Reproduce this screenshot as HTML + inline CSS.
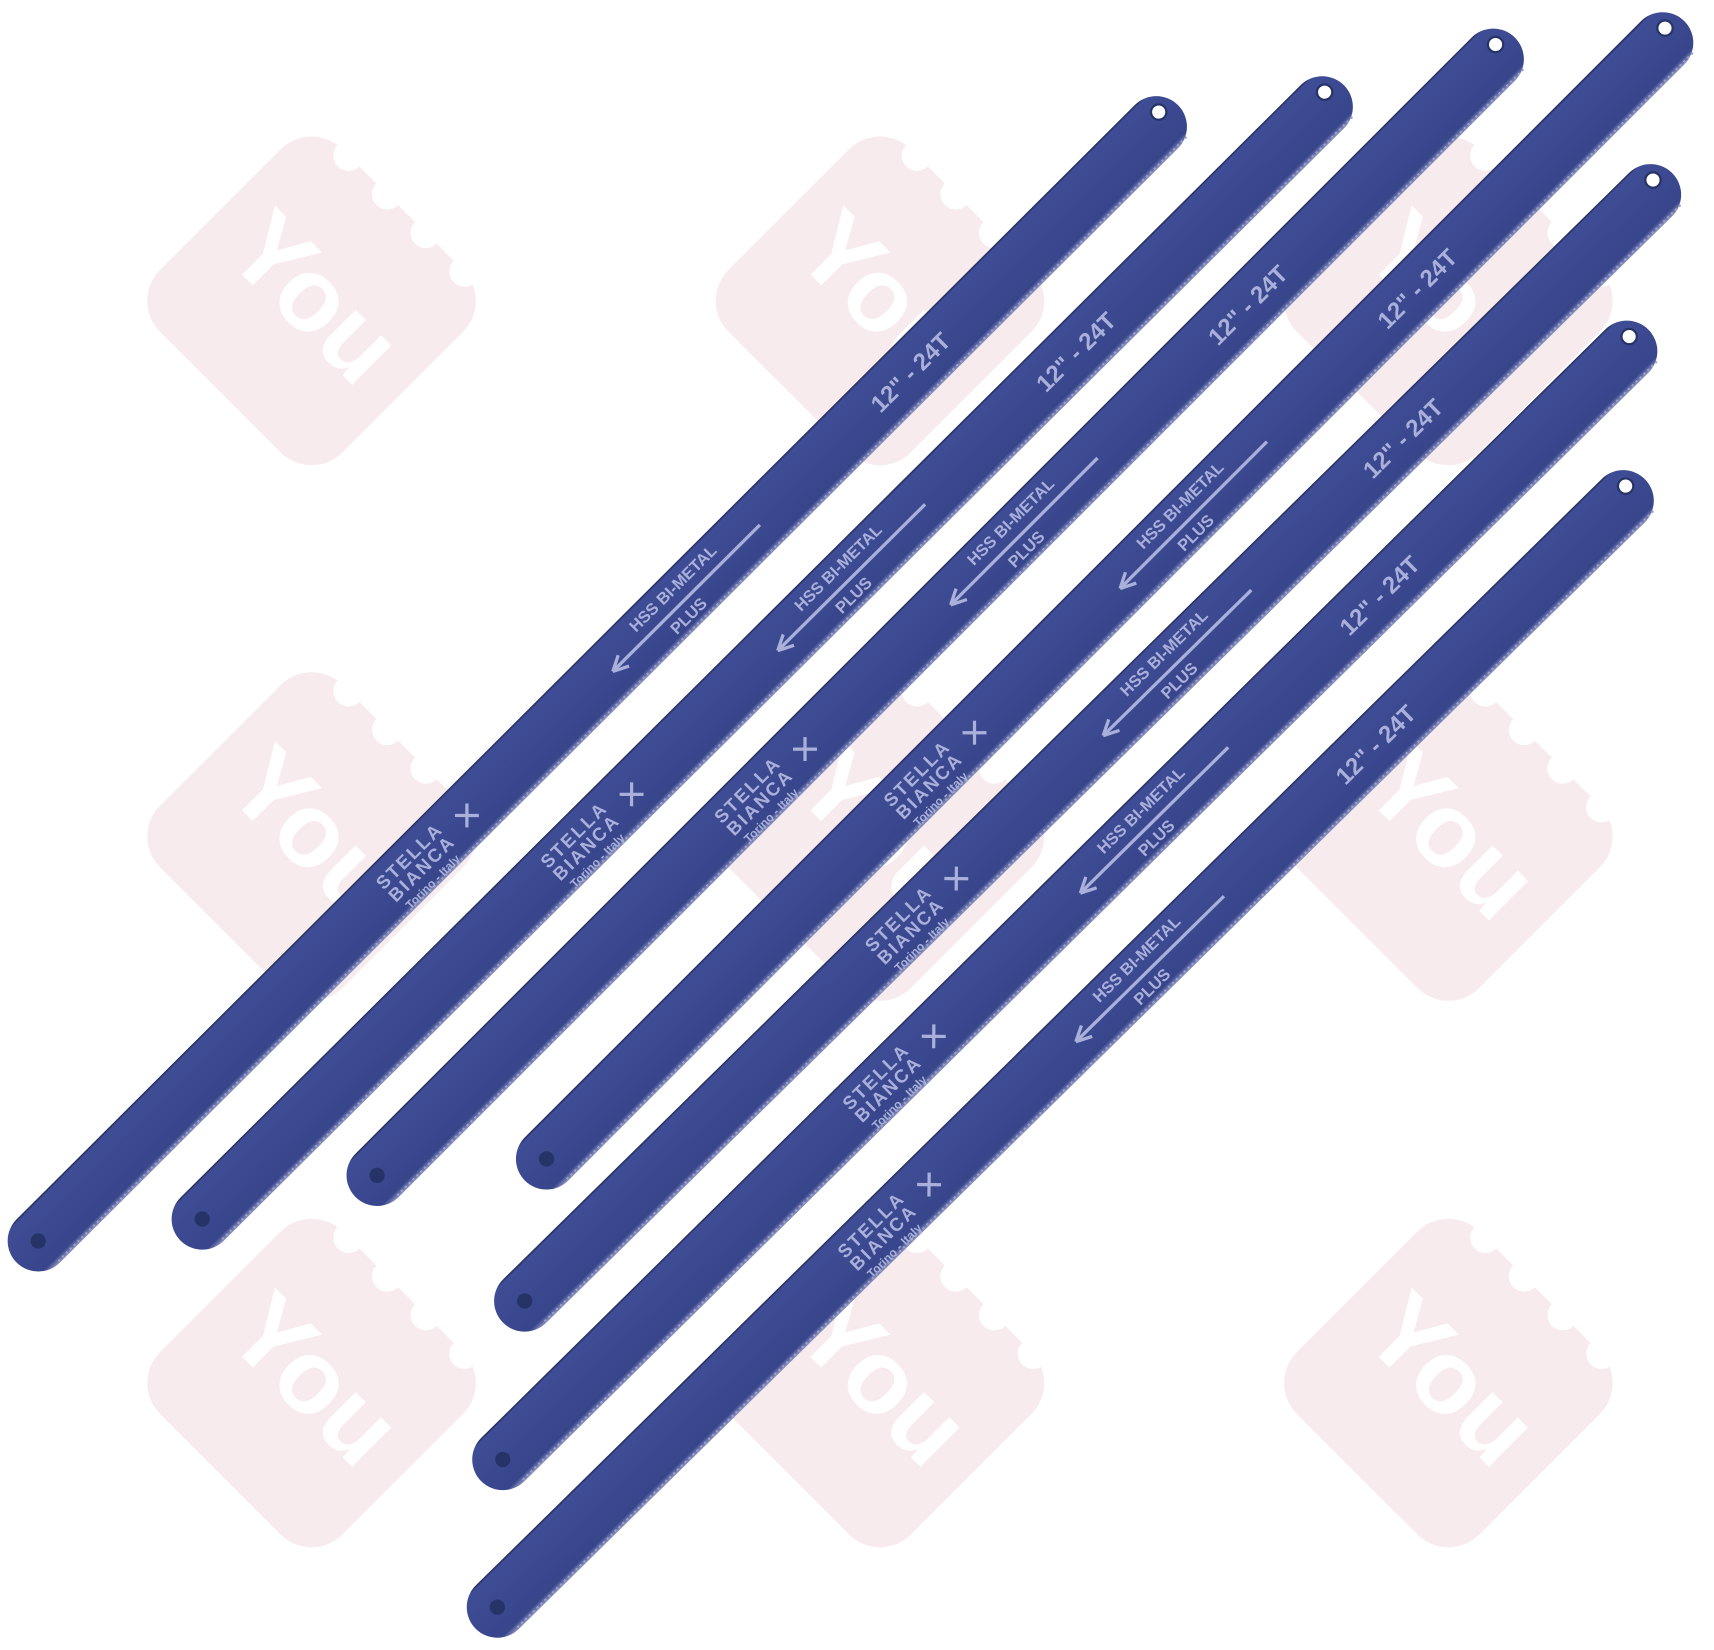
<!DOCTYPE html>
<html><head><meta charset="utf-8"><style>
html,body{margin:0;padding:0;background:#fff;}
svg{display:block;}
</style></head><body>
<svg width="1714" height="1650" viewBox="0 0 1568 1509" xmlns="http://www.w3.org/2000/svg">
<defs>
<linearGradient id="bg" x1="0" y1="0" x2="0" y2="1">
<stop offset="0" stop-color="#1e2650"/>
<stop offset="0.04" stop-color="#3f4d96"/>
<stop offset="0.9" stop-color="#38458b"/>
<stop offset="1" stop-color="#8d95c0"/>
</linearGradient>
<g id="wm">
<g transform="rotate(45)">
<rect x="-118" y="-118" width="236" height="236" rx="40" fill="#f8ebed"/>
<circle cx="-70" cy="-118" r="14" fill="#fff"/>
<circle cx="-20" cy="-118" r="14" fill="#fff"/>
<circle cx="30" cy="-118" r="14" fill="#fff"/>
<circle cx="80" cy="-118" r="14" fill="#fff"/>
</g>
<text x="0" y="28" transform="rotate(45)" text-anchor="middle" font-family="Liberation Sans, sans-serif" font-weight="bold" font-size="96" fill="#fff">You</text>
</g>
<g id="blade">
<rect x="-28" y="-28" width="1500" height="56" rx="28" fill="url(#bg)"/>
<line x1="0" y1="26" x2="1460" y2="26" stroke="#9aa2cc" stroke-width="2" stroke-dasharray="2 3"/>
<circle cx="0" cy="0" r="7" fill="#253366"/>
<circle cx="1455" cy="-8" r="7" fill="#fff" stroke="#253366" stroke-width="2"/>
<text x="1080" y="8" font-family="Liberation Sans, sans-serif" font-weight="bold" font-size="22" fill="#a9b1da">12" - 24T</text>
<text x="780" y="-8" font-family="Liberation Sans, sans-serif" font-weight="bold" font-size="15" fill="#a9b1da">HSS BI-METAL</text>
<text x="805" y="20" font-family="Liberation Sans, sans-serif" font-weight="bold" font-size="15" fill="#a9b1da">PLUS</text>
<line x1="742" y1="2" x2="930" y2="2" stroke="#a9b1da" stroke-width="3"/>
<path d="M740 2 l14 -7 M740 2 l14 7" stroke="#a9b1da" stroke-width="3" fill="none"/>
<text x="450" y="-4" font-family="Liberation Sans, sans-serif" font-weight="bold" font-size="17" fill="#a9b1da" letter-spacing="2">STELLA</text>
<text x="450" y="12" font-family="Liberation Sans, sans-serif" font-weight="bold" font-size="17" fill="#a9b1da" letter-spacing="2">BIANCA</text>
<text x="455" y="26" font-family="Liberation Sans, sans-serif" font-weight="bold" font-size="11" fill="#a9b1da">Torino - Italy</text>
<text x="540" y="12" font-family="DejaVu Sans, sans-serif" font-size="30" fill="#a9b1da">✕</text>
</g>
</defs>
<use href="#wm" x="285" y="275"/><use href="#wm" x="805" y="275"/><use href="#wm" x="1325" y="275"/>
<use href="#wm" x="285" y="765"/><use href="#wm" x="805" y="765"/><use href="#wm" x="1325" y="765"/>
<use href="#wm" x="285" y="1265"/><use href="#wm" x="805" y="1265"/><use href="#wm" x="1325" y="1265"/>
<use href="#blade" transform="translate(35,1135) rotate(-44.9)"/>
<use href="#blade" transform="translate(185,1115) rotate(-44.8)"/>
<use href="#blade" transform="translate(345,1075) rotate(-45)"/>
<use href="#blade" transform="translate(500,1060) rotate(-45)"/>
<use href="#blade" transform="translate(480,1190) rotate(-44.5)"/>
<use href="#blade" transform="translate(460,1335) rotate(-44.6)"/>
<use href="#blade" transform="translate(455,1470) rotate(-44.5)"/>
</svg>
</body></html>
